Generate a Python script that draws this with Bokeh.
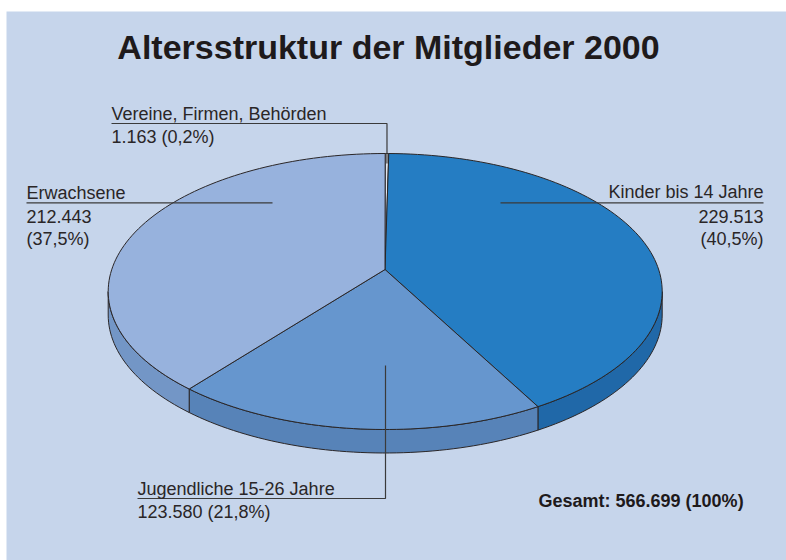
import numpy as np
from bokeh.plotting import figure
from bokeh.models import Range1d, ColumnDataSource
from bokeh.core.properties import value
from bokeh.embed import file_html
from bokeh.resources import INLINE

# ---------------- data ----------------
categories = ["Vereine, Firmen, Behörden", "Kinder bis 14 Jahre",
              "Jugendliche 15-26 Jahre", "Erwachsene"]
members = [1163, 229513, 123580, 212443]
count_labels = ["1.163", "229.513", "123.580", "212.443"]
percent_labels = ["(0,2%)", "(40,5%)", "(21,8%)", "(37,5%)"]
total_label = "Gesamt: 566.699 (100%)"
title_text = "Altersstruktur der Mitglieder 2000"

top_colors = ["#E2E6EE", "#257DC3", "#6696CE", "#97B2DD"]
side_colors = ["#B9C0CC", "#2068A8", "#5783B8", "#7396C6"]

# ---------------- layout constants ----------------
BG = "#C6D5EB"
INK = "#2A2627"
CX, CY, RX, RY = 384.7, 291.0, 277.0, 138.0
AX, AY = 384.5, 269.0          # apex of the slices (perspective centre)
DEPTH = 23.5
FONT = value("Liberation Sans")
SHIFT18 = 6.5                  # renderer baseline correction
SHIFT34 = 12.0

p = figure(width=786, height=560, x_range=Range1d(6, 786), y_range=Range1d(560, 11),
           x_axis_type=None, y_axis_type=None, output_backend="svg",
           toolbar_location=None, min_border_left=6, min_border_right=0,
           min_border_bottom=0, min_border_top=11)
p.background_fill_color = BG
p.border_fill_color = "white"
p.outline_line_color = None
p.grid.visible = False

vals = np.array(members, dtype=float)
frac = vals / vals.sum()
ends = np.cumsum(frac) * 2 * np.pi
starts = ends - frac * 2 * np.pi


def rim(t0, t1, n=120, dy=0.0):
    t = np.linspace(t0, t1, max(int(n * (t1 - t0) / np.pi) + 2, 3))
    return CX + RX * np.sin(t), CY - RY * np.cos(t) + dy


# side faces (only the front half, theta in [pi/2, 3pi/2])
side_xs, side_ys, side_c = [], [], []
for s, e, c in zip(starts, ends, side_colors):
    a, b = max(s, np.pi / 2), min(e, 3 * np.pi / 2)
    if b <= a:
        continue
    xt, yt = rim(a, b)
    xb, yb = rim(a, b, dy=DEPTH)
    side_xs.append(list(xt) + list(xb[::-1]))
    side_ys.append(list(yt) + list(yb[::-1]))
    side_c.append(c)
p.patches(side_xs, side_ys, fill_color=side_c, line_color=INK, line_width=1)

# top faces
top_xs, top_ys = [], []
for s, e in zip(starts, ends):
    xt, yt = rim(s, e)
    top_xs.append([AX] + list(xt))
    top_ys.append([AY] + list(yt))
p.patches(top_xs, top_ys, fill_color=top_colors, line_color=INK, line_width=1,
          line_join="miter")

# ---------------- leader lines ----------------
mid_v = (starts[0] + ends[0]) / 2
vx = CX + RX * np.sin(mid_v)
lines_x = [[111, vx, vx], [26, 272], [500, 763], [137, 385, 385]]
lines_y = [[123, 123, 163], [202.3, 202.3], [202.3, 202.3], [498, 498, 365]]
p.multi_line(lines_x, lines_y, line_color="#3A3A3A", line_width=1.2)

# ---------------- labels ----------------
base_y = [119.5, 143, 198.5, 222, 245, 197.5, 222, 245, 494.5, 518]
lab = ColumnDataSource(dict(
    x=[111, 111, 26, 26, 26, 763, 763, 763, 137, 137],
    y=[b - SHIFT18 for b in base_y],
    text=[categories[0], count_labels[0] + " " + percent_labels[0],
          categories[3], count_labels[3], percent_labels[3],
          categories[1], count_labels[1], percent_labels[1],
          categories[2], count_labels[2] + " " + percent_labels[2]],
    align=["left"] * 5 + ["right"] * 3 + ["left"] * 2,
))
p.text(x="x", y="y", text="text", text_align="align", source=lab,
       text_baseline="alphabetic", text_font=FONT, text_font_size="18px",
       text_color=INK)

p.text(x=[388], y=[58.3 - SHIFT34], text=[title_text], text_align="center",
       text_baseline="alphabetic", text_font=FONT, text_font_size="34px",
       text_font_style="bold", text_color="#1E1A1B")
p.text(x=[538], y=[506.5 - SHIFT18], text=[total_label], text_align="left",
       text_baseline="alphabetic", text_font=FONT, text_font_size="18px",
       text_font_style="bold", text_color="#1E1A1B")

open("out.html", "w").write(file_html(p, INLINE))
